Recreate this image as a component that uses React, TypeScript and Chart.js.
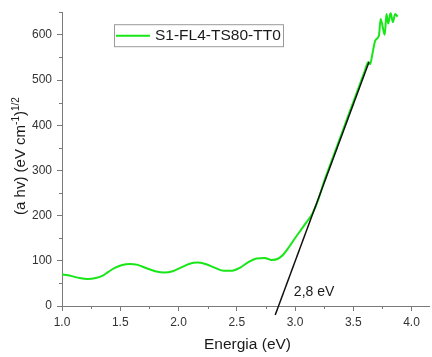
import React, { useEffect, useRef } from 'react';
import { Chart, registerables } from 'chart.js';

Chart.register(...registerables);

// ---- data ----
const energy = [
  1.0, 1.05, 1.1, 1.15, 1.22, 1.29, 1.35, 1.4, 1.45, 1.51, 1.58, 1.65, 1.72, 1.8, 1.88, 1.95,
  2.02, 2.09, 2.16, 2.23, 2.31, 2.39, 2.46, 2.53, 2.6, 2.67, 2.74, 2.8, 2.85, 2.9, 2.95, 3.0,
  3.05, 3.1, 3.15, 3.2, 3.25, 3.3, 3.35, 3.4, 3.45, 3.5, 3.55, 3.6, 3.63, 3.645, 3.66, 3.69,
  3.72, 3.735, 3.77, 3.785, 3.8, 3.82, 3.84, 3.86, 3.88,
];
const signal = [
  70, 68, 65, 62, 60, 62, 67, 76, 84, 90, 93, 91, 84, 77, 74, 77,
  85, 93, 96, 93, 85, 78, 78, 85, 97, 105, 106, 102, 104, 114, 131, 150,
  168, 186, 205, 236, 276, 311, 346, 381, 416, 451, 486, 521, 540, 535, 552, 588,
  598, 635, 600, 646, 625, 648, 628, 646, 640,
];
const fitEnergy = [2.83, 3.635];
const fitValue = [-20, 540];
const xTicks = [1.0, 1.5, 2.0, 2.5, 3.0, 3.5, 4.0];
const yTicks = [0, 100, 200, 300, 400, 500, 600];
const xRange = [1.0, 4.15];
const yRange = [0, 650];
const seriesLabel = 'S1-FL4-TS80-TT0';
const xTitle = 'Energia (eV)';
const yTitleParts = [
  { text: '(a hv) (eV cm', sup: false },
  { text: '-1', sup: true },
  { text: ')', sup: false },
  { text: '1/2', sup: true },
];
const gapLabel = '2,8 eV';
const gapLabelAt = { x: 2.99, y: 30 };

// ---- style ----
const FONT = '"Liberation Sans", Arial, Helvetica, sans-serif';
const GREEN = '#17e617';
const AXIS = '#7a7a7a';
const TICK_TEXT = '#333333';
const TITLE_TEXT = '#1a1a1a';

const overlay = {
  id: 'overlay',
  afterDraw(chart: any) {
    const { ctx, chartArea, scales } = chart;
    const xs = scales.x;
    const ys = scales.y;
    ctx.save();

    // minor ticks
    ctx.strokeStyle = AXIS;
    ctx.lineWidth = 1;
    ctx.beginPath();
    for (const t of xTicks) {
      const v = t + 0.25;
      if (v <= xs.max) {
        const px = Math.round(xs.getPixelForValue(v)) + 0.5;
        ctx.moveTo(px, chartArea.bottom);
        ctx.lineTo(px, chartArea.bottom + 3);
      }
    }
    for (const t of yTicks) {
      const v = t + 50;
      if (v <= ys.max) {
        const py = Math.round(ys.getPixelForValue(v)) + 0.5;
        ctx.moveTo(chartArea.left, py);
        ctx.lineTo(chartArea.left - 3, py);
      }
    }
    ctx.stroke();

    // legend box
    const lx = chartArea.left + 52;
    const ly = chartArea.top + 12;
    ctx.strokeStyle = '#9a9a9a';
    ctx.lineWidth = 1;
    ctx.strokeRect(lx + 0.5, ly + 0.5, 169, 22);
    ctx.strokeStyle = GREEN;
    ctx.lineWidth = 2;
    ctx.beginPath();
    ctx.moveTo(lx + 2, ly + 11.5);
    ctx.lineTo(lx + 36, ly + 11.5);
    ctx.stroke();
    ctx.fillStyle = TITLE_TEXT;
    ctx.font = `15.5px ${FONT}`;
    ctx.textAlign = 'left';
    ctx.textBaseline = 'middle';
    ctx.fillText(seriesLabel, lx + 41, ly + 12);

    // x title
    ctx.font = `15.5px ${FONT}`;
    ctx.textAlign = 'center';
    ctx.textBaseline = 'middle';
    ctx.fillText(xTitle, (chartArea.left + chartArea.right) / 2 + 2, chart.height - 12);

    // y title with superscripts
    ctx.save();
    ctx.translate(20, 156);
    ctx.rotate(-Math.PI / 2);
    ctx.textAlign = 'left';
    ctx.textBaseline = 'alphabetic';
    const mainFont = `15px ${FONT}`;
    const supFont = `10px ${FONT}`;
    let total = 0;
    for (const p of yTitleParts) {
      ctx.font = p.sup ? supFont : mainFont;
      total += ctx.measureText(p.text).width;
    }
    let cx = -total / 2;
    for (const p of yTitleParts) {
      ctx.font = p.sup ? supFont : mainFont;
      ctx.fillText(p.text, cx, p.sup ? -1 : 5);
      cx += ctx.measureText(p.text).width;
    }
    ctx.restore();

    // gap annotation
    ctx.fillStyle = TITLE_TEXT;
    ctx.font = `14px ${FONT}`;
    ctx.textAlign = 'left';
    ctx.textBaseline = 'middle';
    ctx.fillText(gapLabel, xs.getPixelForValue(gapLabelAt.x), ys.getPixelForValue(gapLabelAt.y));

    ctx.restore();
  },
};

export default function App() {
  const ref = useRef<HTMLCanvasElement | null>(null);

  useEffect(() => {
    if (!ref.current) return;
    const chart = new Chart(ref.current, {
      type: 'line',
      data: {
        datasets: [
          {
            label: 'fit',
            data: fitEnergy.map((x, i) => ({ x, y: fitValue[i] })),
            borderColor: '#111111',
            borderWidth: 1.5,
            pointRadius: 0,
            fill: false,
            clip: false,
            order: 0,
          } as any,
          {
            label: seriesLabel,
            data: energy.map((x, i) => ({ x, y: signal[i] })),
            borderColor: GREEN,
            borderWidth: 2,
            pointRadius: 0,
            fill: false,
            cubicInterpolationMode: 'monotone',
            order: 1,
          } as any,
        ],
      },
      options: {
        responsive: false,
        animation: false,
        devicePixelRatio: 1,
        layout: { padding: { top: 6, right: 3, left: 0, bottom: 0 } },
        plugins: {
          legend: { display: false },
          tooltip: { enabled: false },
        },
        scales: {
          x: {
            type: 'linear',
            min: xRange[0],
            max: xRange[1],
            afterBuildTicks: (s: any) => {
              s.ticks = xTicks.map((v) => ({ value: v }));
            },
            afterFit: (s: any) => {
              s.height = 51;
            },
            ticks: {
              color: TICK_TEXT,
              font: { family: FONT, size: 12 },
              padding: 4,
              maxRotation: 0,
              callback: (v: any) => Number(v).toFixed(1),
            },
            grid: {
              display: true,
              drawOnChartArea: false,
              drawTicks: true,
              tickLength: 5,
              color: AXIS,
            },
            border: { display: true, color: AXIS, width: 1 },
          },
          y: {
            type: 'linear',
            min: yRange[0],
            max: yRange[1],
            afterBuildTicks: (s: any) => {
              s.ticks = yTicks.map((v) => ({ value: v }));
            },
            afterFit: (s: any) => {
              s.width = 62;
            },
            ticks: {
              color: TICK_TEXT,
              font: { family: FONT, size: 12 },
              padding: 5,
              callback: (v: any) => String(v),
            },
            grid: {
              display: true,
              drawOnChartArea: false,
              drawTicks: true,
              tickLength: 5,
              color: AXIS,
            },
            border: { display: true, color: AXIS, width: 1 },
          },
        },
      },
      plugins: [overlay],
    });
    return () => chart.destroy();
  }, []);

  return (
    <div style={{ position: 'fixed', left: 0, top: 0, width: 432, height: 357, background: '#fff' }}>
      <canvas ref={ref} width={432} height={357} style={{ display: 'block' }} />
    </div>
  );
}
